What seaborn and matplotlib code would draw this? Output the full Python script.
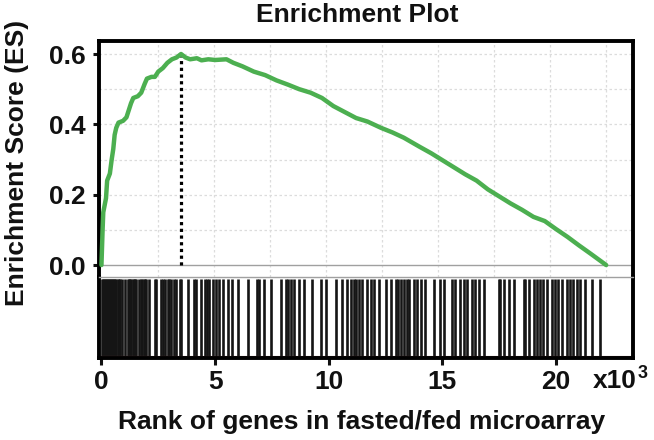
import matplotlib
matplotlib.use("Agg")
import matplotlib.pyplot as plt
import numpy as np
import seaborn as sns

# running enrichment score (rank in thousands)
rank_k = [0.0, 0.05, 0.08, 0.2, 0.25, 0.37, 0.45, 0.52, 0.58, 0.65, 0.75, 0.95,
          1.1, 1.2, 1.3, 1.4, 1.6, 1.75, 1.9, 2.0, 2.2, 2.35, 2.5, 2.7, 2.9,
          3.1, 3.3, 3.5, 3.7, 3.9, 4.2, 4.4, 4.7, 5.0, 5.5, 5.8, 6.2, 6.7,
          7.2, 7.7, 8.2, 8.7, 9.2, 9.7, 10.2, 10.7, 11.2, 11.7, 12.3, 12.8,
          13.3, 14.0, 14.5, 15.0, 15.5, 16.0, 16.5, 17.0, 17.5, 18.0, 18.5,
          19.0, 19.5, 20.0, 20.5, 21.0, 21.5, 22.2]
es = [0.0, 0.10, 0.15, 0.19, 0.24, 0.26, 0.30, 0.33, 0.37, 0.39, 0.405, 0.41,
      0.42, 0.44, 0.46, 0.475, 0.48, 0.49, 0.515, 0.53, 0.535, 0.535, 0.55, 0.56, 0.575,
      0.585, 0.59, 0.60, 0.59, 0.585, 0.588, 0.582, 0.585, 0.583, 0.585, 0.575, 0.565, 0.55,
      0.54, 0.525, 0.513, 0.50, 0.49, 0.475, 0.452, 0.435, 0.418, 0.408, 0.39, 0.377,
      0.362, 0.336, 0.318, 0.298, 0.278, 0.258, 0.24, 0.215, 0.195, 0.175, 0.157,
      0.137, 0.125, 0.102, 0.08, 0.056, 0.033, 0.0]

# positions of gene-set members in the ranked list (thousands)
hits_k = [0.02, 0.06, 0.1, 0.14, 0.18, 0.25, 0.29, 0.33, 0.37, 0.41, 0.48, 0.52,
          0.56, 0.6, 0.64, 0.72, 0.76, 0.8, 0.91, 1.05, 1.17, 1.22, 1.27, 1.32,
          1.37, 1.42, 1.47, 1.52, 1.64, 1.74, 1.8, 1.86, 1.92, 1.97, 2.08, 2.34,
          2.41, 2.6, 2.7, 2.81, 2.93, 2.99, 3.05, 3.19, 3.29, 3.44, 3.5,
          3.8, 4.06, 4.17, 4.36, 4.56, 4.65, 4.75, 4.9, 5.04, 5.19, 5.34, 5.56,
          5.73, 6.02, 6.43, 6.84, 6.94, 7.16, 7.46, 7.89, 8.11, 8.22, 8.33, 8.45,
          8.67, 8.92, 9.28, 9.65, 9.87, 10.31, 10.6, 10.82, 10.96, 11.11, 11.21,
          11.33, 11.48, 11.7, 11.84, 11.99, 12.21, 12.5, 12.72, 12.94, 13.04,
          13.16, 13.3, 13.42, 13.52, 13.74, 13.89, 14.04, 14.25, 14.62, 14.91,
          15.06, 15.42, 15.57, 15.79, 15.94, 16.08, 16.3, 16.45, 16.59, 16.81,
          17.47, 17.54, 17.69, 17.91, 18.13, 18.57, 18.64, 18.79, 19.01, 19.15,
          19.3, 19.44, 19.59, 19.81, 19.96, 20.1, 20.25, 20.47, 20.61, 20.76,
          20.91, 21.05, 21.27, 21.56, 21.93]

n_genes_k = 22.2
peak_k = 3.5
peak_es = 0.60
x_ticks = [0, 5, 10, 15, 20]
y_ticks = [0.0, 0.2, 0.4, 0.6]

sns.set_style("white")
plt.rcParams['font.family'] = ['Liberation Sans', 'DejaVu Sans']
plt.rcParams['font.weight'] = 'bold'
plt.rcParams['text.color'] = '#111111'
plt.rcParams['xtick.color'] = '#111111'
plt.rcParams['ytick.color'] = '#111111'

W, H = 654, 440
FS = 19
fig = plt.figure(figsize=(W / 100, H / 100), dpi=100)
L, R = 98.5 / W, 633 / W
ax = fig.add_axes([L, 1 - 277 / H, R - L, (277 - 41) / H])
axb = fig.add_axes([L, 1 - 357.5 / H, R - L, 80.5 / H])

xlim = (-0.13, 23.38)

# light dotted grid
for gx in np.linspace(0, n_genes_k, 10)[1:]:
    ax.axvline(gx, color='#dcdcdc', lw=0.9, ls=(0, (2, 2)), zorder=0)
for gy in [0.1, 0.2, 0.3, 0.4, 0.5, 0.6]:
    ax.axhline(gy, color='#dcdcdc', lw=0.9, ls=(0, (2, 2)), zorder=0)
ax.axhline(0, color='#a0a0a0', lw=1.0, zorder=1)

sns.lineplot(x=rank_k, y=es, ax=ax, color='#4caf50', lw=3.2,
             estimator=None, sort=False, zorder=3)
ax.vlines(peak_k, 0, peak_es, colors='black', linestyles=(0, (1, 1.1)), lw=2.3, zorder=2)

ax.set_xlim(*xlim)
ax.set_ylim(-0.034, 0.637)
ax.set_yticks(y_ticks)
ax.set_yticklabels([f"{v:.1f}" for v in y_ticks])
ax.set_xticks([])
ax.set_xlabel("")
ax.set_ylabel("")
ax.tick_params(axis='y', left=True, length=4, width=2.2, pad=5, labelsize=FS)
for s in ['top', 'left', 'right']:
    ax.spines[s].set_linewidth(2.8)
    ax.spines[s].set_color('black')
ax.spines['bottom'].set_visible(False)

# hit barcode
axb.vlines(hits_k, 0, 1, colors='#151515', lw=1.9)
axb.axhline(0, color='#8c4a4a', lw=0.8)
axb.set_xlim(*xlim)
axb.set_ylim(-0.02, 1.03)
axb.set_yticks([])
axb.set_xticks(x_ticks)
axb.set_xticklabels([str(v) for v in x_ticks])
axb.tick_params(axis='x', bottom=True, length=5, width=2.2, pad=4, labelsize=FS)
for s in ['bottom', 'left', 'right']:
    axb.spines[s].set_linewidth(2.8)
    axb.spines[s].set_color('black')
axb.spines['top'].set_linewidth(1.0)
axb.spines['top'].set_color('#a0a0a0')

fig.text(637 / W, 1 - 388 / H, "x10", ha='right', va='baseline', fontsize=FS, weight='bold')
fig.text(638 / W, 1 - 378 / H, "3", ha='left', va='baseline', fontsize=13, weight='bold')
fig.text(357 / W, 1 - 15 / H, "Enrichment Plot", ha='center', va='center', fontsize=FS, weight='bold')
fig.text(362 / W, 1 - 422 / H, "Rank of genes in fasted/fed microarray",
         ha='center', va='center', fontsize=FS, weight='bold')
fig.text(17 / W, 1 - 163 / H, "Enrichment Score (ES)", ha='center', va='center',
         rotation=90, fontsize=FS, weight='bold')

fig.savefig("out.png", dpi=100)
